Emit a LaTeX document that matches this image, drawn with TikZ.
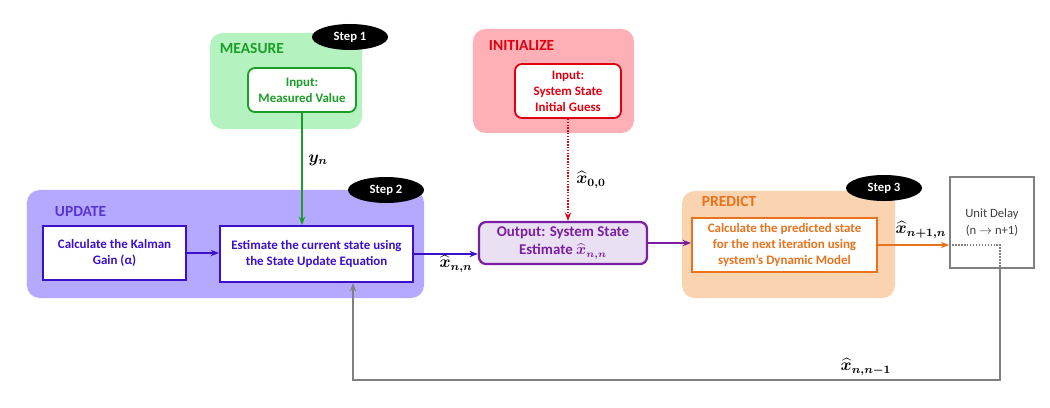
\documentclass[tikz,border=0pt]{standalone}
\usepackage{amsmath,amssymb}
\usepackage{bm}
\usepackage{fontspec}
\setmainfont{Carlito}
\definecolor{kGreen}{HTML}{1A9E28}
\definecolor{kGreenBg}{HTML}{B4F2BF}
\definecolor{kRed}{HTML}{E00010}
\definecolor{kRedBg}{HTML}{FFB0B6}
\definecolor{kBlue}{HTML}{3A10CC}
\definecolor{kBlueBg}{HTML}{B5A9FF}
\definecolor{kPurple}{HTML}{7A1FA2}
\definecolor{kPurpleBg}{HTML}{EAE0F3}
\definecolor{kOrange}{HTML}{E8731C}
\definecolor{kOrangeBg}{HTML}{FAD3B0}
\definecolor{kGray}{HTML}{808080}
\usetikzlibrary{positioning,arrows.meta,shapes.geometric}

\begin{document}
\begin{tikzpicture}[x=0.025cm, y=-0.025cm,
  group/.style={rounded corners=9pt, inner sep=0pt},
  grouptitle/.style={anchor=west, font=\fontsize{11}{13}\selectfont\bfseries},
  stepmark/.style={ellipse, fill=black, text=white, inner sep=0pt, minimum width=1.9cm, minimum height=0.65cm, font=\fontsize{9}{11}\selectfont\bfseries},
  box/.style={draw, fill=white, line width=1.3pt, align=center, inner sep=0pt, font=\fontsize{9.2}{11.4}\selectfont\bfseries},
  flow/.style={-{Stealth[length=6pt,width=4.5pt]}, line width=1pt},
  lbl/.style={font=\fontsize{12}{14}\selectfont}]
\useasboundingbox (0,0) rectangle (1050,407);

% groups
\node[group, fill=kGreenBg, minimum width=3.8cm, minimum height=2.4cm] (measgrp) at (286,81) {};
\node[group, fill=kRedBg, minimum width=4.025cm, minimum height=2.6cm] (initgrp) at (553.5,81) {};
\node[group, fill=kBlueBg, minimum width=9.925cm, minimum height=2.7cm] (updgrp) at (225.5,244) {};
\node[group, fill=kOrangeBg, minimum width=5.325cm, minimum height=2.675cm] (predgrp) at (788.5,244.5) {};

\node[grouptitle, text=kGreen] (meastitle) at (215,48) {MEASURE};
\node[grouptitle, text=kRed] (inittitle) at (484,45) {INITIALIZE};
\node[grouptitle, text=kBlue!85] (updtitle) at (50,212) {UPDATE};
\node[grouptitle, text=kOrange] (predtitle) at (697,201) {PREDICT};

\node[stepmark] (step1) at (350,37) {Step 1};
\node[stepmark] (step2) at (386,190) {Step 2};
\node[stepmark] (step3) at (884,188) {Step 3};

% boxes
\node[box, draw=kGreen, text=kGreen, rounded corners=5pt, minimum width=2.7cm, minimum height=1.1cm] (meas) at (302,90) {Input:\\Measured Value};
\node[box, draw=kRed, text=kRed, rounded corners=5pt, minimum width=2.65cm, minimum height=1.35cm] (init) at (568,91) {Input:\\System State\\Initial Guess};
\node[box, draw=kBlue, text=kBlue, minimum width=3.575cm, minimum height=1.35cm] (kalman) at (114.5,253) {Calculate the Kalman\\Gain (α)};
\node[box, draw=kBlue, text=kBlue, minimum width=4.825cm, minimum height=1.4cm] (est) at (316.5,254) {Estimate the current state using\\the State Update Equation};
\node[box, draw=kPurple, fill=kPurpleBg, text=kPurple, rounded corners=5pt, line width=1.6pt, minimum width=4.2cm, minimum height=1.05cm, font=\fontsize{10.6}{13}\selectfont\bfseries] (out) at (563,243) {Output: System State\\Estimate $\bm{\widehat{x}_{n,n}}$};
\node[box, draw=kOrange, text=kOrange, minimum width=4.625cm, minimum height=1.35cm] (pred) at (784.5,245) {Calculate the predicted state\\for the next iteration using\\system’s Dynamic Model};
\node[box, draw=kGray, text=black!75, line width=1.1pt, minimum width=2.1cm, minimum height=2.275cm, font=\fontsize{9}{12}\selectfont] (delay) at (992,222.5) {Unit Delay\\(n $\rightarrow$ n+1)};

\coordinate (dtap) at (1000,268);
\coordinate (fb) at (353,380);

% connectors
\draw[flow, kGreen] (meas.south) -- (meas.south |- est.north);
\draw[flow, kRed, densely dotted, line width=1.2pt] (init.south) -- (init.south |- out.north);
\draw[flow, kBlue] (kalman.east) -- (kalman.east -| est.west);
\draw[flow, kBlue] (est.east) -- (est.east -| out.west);
\draw[flow, kPurple] (out.east) -- (out.east -| pred.west);
\draw[flow, kOrange] (pred.east) -- (pred.east -| delay.west);
\draw[kGray, densely dotted, line width=1.1pt] (pred.east -| delay.west) -| (dtap);
\draw[flow, kGray] (dtap) |- (fb) -- (fb |- est.south);

% labels
\node[lbl] (ylbl) at (318,160) {$\bm{y_n}$};
\node[lbl] (x00lbl) at (591,180) {$\bm{\widehat{x}_{0,0}}$};
\node[lbl] (xnnlbl) at (456,264) {$\bm{\widehat{x}_{n,n}}$};
\node[lbl] (xpredlbl) at (921,230) {$\bm{\widehat{x}_{n+1,n}}$};
\node[lbl] (xprevlbl) at (866,367) {$\bm{\widehat{x}_{n,n-1}}$};
\end{tikzpicture}
\end{document}
